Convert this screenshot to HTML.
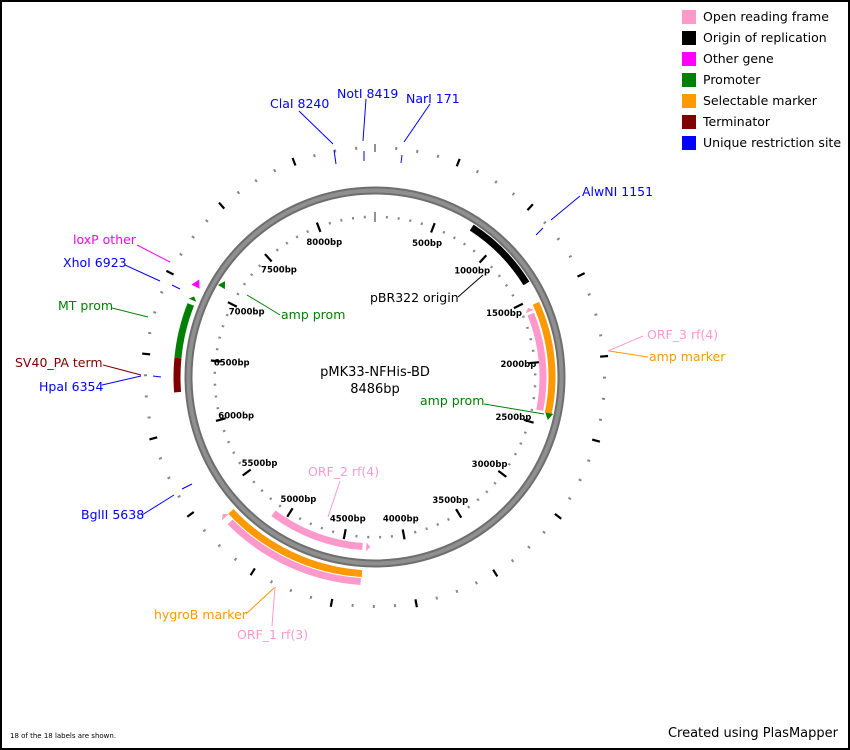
<!DOCTYPE html>
<html><head><meta charset="utf-8"><style>
html,body{margin:0;padding:0;background:#fff;}
svg{display:block;}
text{font-family:"DejaVu Sans","Liberation Sans",sans-serif;}
</style></head><body>
<svg id="s" width="850" height="750" xmlns="http://www.w3.org/2000/svg">
<rect x="1" y="1" width="848" height="748" fill="#fff" stroke="#000" stroke-width="2"/>
<g id="g"></g>
<g font-size="12.5" fill="#000">
<rect x="682" y="10" width="14" height="14" fill="#ff99cc"/><text x="703" y="21">Open reading frame</text>
<rect x="682" y="31" width="14" height="14" fill="#000"/><text x="703" y="42">Origin of replication</text>
<rect x="682" y="52" width="14" height="14" fill="#ff00ff"/><text x="703" y="63">Other gene</text>
<rect x="682" y="73" width="14" height="14" fill="#008000"/><text x="703" y="84">Promoter</text>
<rect x="682" y="94" width="14" height="14" fill="#ff9900"/><text x="703" y="105">Selectable marker</text>
<rect x="682" y="115" width="14" height="14" fill="#800000"/><text x="703" y="126">Terminator</text>
<rect x="682" y="136" width="14" height="14" fill="#0000ff"/><text x="703" y="147">Unique restriction site</text>
</g>
<text x="10" y="738" font-size="7">18 of the 18 labels are shown.</text>
<text x="838" y="737" font-size="13" text-anchor="end">Created using PlasMapper</text>
<text x="375" y="376" font-size="13" text-anchor="middle">pMK33-NFHis-BD</text>
<text x="375" y="393" font-size="13" text-anchor="middle">8486bp</text>
<g font-size="12.5">
<text x="270" y="108" fill="#0000ff">ClaI 8240</text>
<text x="337" y="98" fill="#0000ff">NotI 8419</text>
<text x="406" y="103" fill="#0000ff">NarI 171</text>
<text x="582" y="196" fill="#0000ff">AlwNI 1151</text>
<text x="73" y="244" fill="#ff00ff">loxP other</text>
<text x="63" y="267" fill="#0000ff">XhoI 6923</text>
<text x="58" y="310" fill="#008000">MT prom</text>
<text x="15" y="367" fill="#800000">SV40_PA term</text>
<text x="39" y="391" fill="#0000ff">HpaI 6354</text>
<text x="81" y="519" fill="#0000ff">BglII 5638</text>
<text x="154" y="619" fill="#ff9900">hygroB marker</text>
<text x="237" y="639" fill="#ff99cc">ORF_1 rf(3)</text>
<text x="308" y="476" fill="#ff99cc">ORF_2 rf(4)</text>
<text x="647" y="339" fill="#ff99cc">ORF_3 rf(4)</text>
<text x="649" y="361" fill="#ff9900">amp marker</text>
<text x="281" y="319" fill="#008000">amp prom</text>
<text x="420" y="405" fill="#008000">amp prom</text>
<text x="370" y="302" fill="#000">pBR322 origin</text>
</g>
<g stroke-width="1" fill="none">
<path d="M299 111L333 144M366 99L363 141M430 104L404 142M580 196L551 220M125 265L160 281M102 385L141 376M142 515L174 495" stroke="#0000ff"/>
<path d="M334 150L336 164M364 151L364 161M402 155L401 163M543 228L536 235M172 285L180 289M153 376L161 377M182 489L192 484" stroke="#0000ff"/>
<path d="M137 245L170 262" stroke="#ff00ff"/>
<path d="M112 308L148 317M247 295L267 307L280 315M484 404L544 414" stroke="#008000"/>
<path d="M103 365L141 375" stroke="#800000"/>
<path d="M246 614L274 588M648 357L609 351" stroke="#ff9900"/>
<path d="M272 626L275 587M340 481L328 517M643 336L608 351" stroke="#ff99cc"/>
<path d="M458 297L483 275" stroke="#000"/>
</g>
</svg>
<script>
(function(){
var NS="http://www.w3.org/2000/svg",g=document.getElementById("g");
var cx=375,cy=377,L=8486;
function P(r,a){a=a*Math.PI/180;return [cx+r*Math.sin(a),cy-r*Math.cos(a)];}
function el(n,at){var e=document.createElementNS(NS,n);for(var k in at)e.setAttribute(k,at[k]);g.appendChild(e);return e;}
function line(r1,r2,a,c,w){var p=P(r1,a),q=P(r2,a);el("line",{x1:p[0],y1:p[1],x2:q[0],y2:q[1],stroke:c,"stroke-width":w});}
function arc(r,a1,a2,c,w){var p=P(r,a1),q=P(r,a2);var la=(a2-a1)>180?1:0;
 el("path",{d:"M"+p[0]+" "+p[1]+"A"+r+" "+r+" 0 "+la+" 1 "+q[0]+" "+q[1],stroke:c,"stroke-width":w,fill:"none"});}
function tri(r,a,dir,c,hw,len){
 var da=len/r*180/Math.PI;var b=a-dir*da;var t=P(r,a),p=P(r+hw,b),q=P(r-hw,b);
 el("polygon",{points:t.join(",")+" "+p.join(",")+" "+q.join(","),fill:c});}
el("circle",{cx:cx,cy:cy,r:186.5,fill:"none",stroke:"#6e6e6e","stroke-width":8});
el("circle",{cx:cx,cy:cy,r:186.5,fill:"none",stroke:"#8f8f8f","stroke-width":4});
for(var b=0;b<L;b+=125){var a=b/L*360;
 if(b%500==0&&b>0) line(226,234,a,"#000",2.2);
 else if(b==0) line(225,233,a,"#777",1.6);
 else line(228,231,a,"#888",2);}
for(var b=0;b<L;b+=100){var a=b/L*360;
 if(b%500==0&&b>0){line(155,165,a,"#000",2.2);
  var t=P(144,a);var e=el("text",{x:t[0],y:t[1]+3,"font-size":"8.5","font-weight":"bold","text-anchor":"middle",fill:"#000"});e.textContent=b+"bp";}
 else if(b==0) line(155,165,a,"#777",1.6);
 else line(159,161.5,a,"#888",2);}
arc(178,32.9,58.3,"#000",7);
arc(177,65.4,101.8,"#ff9900",7);
arc(168,68,101.4,"#ff99cc",7); tri(168,65.7,-1,"#ff99cc",4.5,4);
tri(178,104,1,"#008000",4,7);
arc(197,183.8,227,"#ff9900",7);
arc(205,184,225,"#ff99cc",7); tri(205,228,1,"#ff99cc",4.5,4);
arc(170,184.2,216.7,"#ff99cc",7); tri(170,181.6,-1,"#ff99cc",4.5,4);
arc(198,275.5,291.5,"#008000",7); tri(198,294,1,"#008000",4,4);
arc(198,265.6,275.5,"#800000",7);
tri(201,299,1,"#ff00ff",4.5,8);
tri(178,302.6,1,"#008000",4,7);
})();
</script>
</body></html>
